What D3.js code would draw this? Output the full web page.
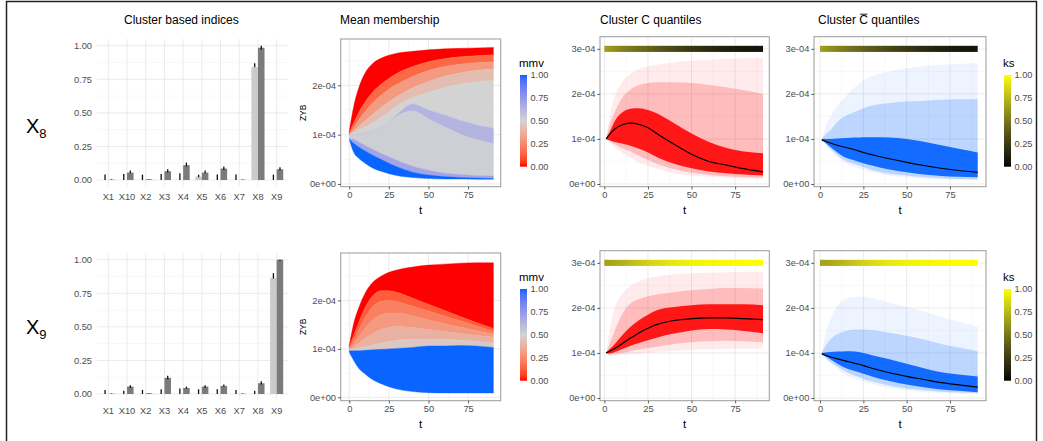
<!DOCTYPE html>
<html>
<head>
<meta charset="utf-8">
<script src="https://cdn.jsdelivr.net/npm/d3@7/dist/d3.min.js"></script>
<style>
  body { margin: 0; background: #fff; }
  text { font-family: "Liberation Sans", Arial, sans-serif; }
</style>
</head>
<body>
<div id="chart"></div>
<script>
// ---------- data ----------
const cats = ["X1", "X10", "X2", "X3", "X4", "X5", "X6", "X7", "X8", "X9"];
const rowNames = ["8", "9"];

// cluster based indices (light = first index, dark = second index), [lo, hi] error bars
const light8 = [0, 0, 0, 0, 0, 0.025, 0, 0, 0.84, 0];
const light8Err = [[0, 0.04], [0, 0.045], [0, 0.04], [0, 0.045], [0, 0.05], [0.02, 0.04], [0, 0.04], [0, 0.04], [0.84, 0.87], [0, 0.04]];
const dark8 = [0.002, 0.055, 0.005, 0.065, 0.11, 0.055, 0.085, 0.002, 0.985, 0.08];
const dark8Err = [[0, 0.005], [0.05, 0.07], [0.003, 0.007], [0.055, 0.08], [0.1, 0.13], [0.05, 0.07], [0.075, 0.1], [0, 0.004], [0.97, 1.0], [0.07, 0.095]];

const light9 = [0, 0, 0, 0, 0, 0, 0, 0, 0, 0.865];
const light9Err = [[0, 0.03], [0, 0.025], [0, 0.03], [0, 0.035], [0, 0.04], [0, 0.035], [0, 0.035], [0, 0.03], [0, 0.025], [0.86, 0.9]];
const dark9 = [0.002, 0.055, 0.005, 0.12, 0.045, 0.055, 0.06, 0.002, 0.08, 1.0];
const dark9Err = [[0, 0.004], [0.045, 0.065], [0.003, 0.007], [0.11, 0.135], [0.04, 0.055], [0.045, 0.065], [0.055, 0.07], [0, 0.004], [0.07, 0.095], [0.99, 1.0]];

// mean membership: band boundaries (ZYB, units of 1e-4) from top to bottom, with the mmv of each band
const heatT = [0, 3, 6, 10, 15, 20, 25, 30, 40, 50, 60, 70, 80, 91];
const heat8 = [
  [1.07, 1.60, 1.95, 2.25, 2.45, 2.55, 2.61, 2.65, 2.69, 2.72, 2.74, 2.75, 2.76, 2.77],
  [1.03, 1.25, 1.45, 1.66, 1.87, 2.02, 2.14, 2.24, 2.38, 2.48, 2.54, 2.58, 2.60, 2.62],
  [1.01, 1.15, 1.30, 1.47, 1.65, 1.80, 1.92, 2.02, 2.18, 2.30, 2.38, 2.43, 2.46, 2.48],
  [1.00, 1.08, 1.17, 1.28, 1.42, 1.55, 1.67, 1.77, 1.95, 2.08, 2.18, 2.25, 2.30, 2.33],
  [1.00, 1.04, 1.09, 1.15, 1.24, 1.35, 1.45, 1.58, 1.75, 1.85, 1.95, 2.02, 2.07, 2.10],
  [0.99, 1.00, 1.01, 1.03, 1.08, 1.15, 1.25, 1.40, 1.62, 1.50, 1.40, 1.29, 1.20, 1.13],
  [0.98, 0.99, 1.00, 1.02, 1.07, 1.14, 1.24, 1.37, 1.48, 1.32, 1.16, 1.01, 0.90, 0.82],
  [0.93, 0.90, 0.85, 0.78, 0.70, 0.62, 0.55, 0.48, 0.36, 0.28, 0.22, 0.19, 0.17, 0.16],
  [0.90, 0.82, 0.75, 0.67, 0.58, 0.50, 0.42, 0.35, 0.24, 0.18, 0.15, 0.13, 0.12, 0.11],
  [0.90, 0.63, 0.52, 0.42, 0.32, 0.26, 0.21, 0.17, 0.13, 0.11, 0.10, 0.10, 0.095, 0.095]
];
const heat8Mmv = [0, 0.15, 0.3, 0.42, 0.5, 0.63, 0.52, 0.7, 1];

const heat9 = [
  [1.07, 1.55, 1.85, 2.15, 2.38, 2.50, 2.58, 2.63, 2.69, 2.73, 2.75, 2.77, 2.78, 2.78],
  [1.04, 1.30, 1.55, 1.85, 2.10, 2.20, 2.20, 2.17, 2.05, 1.92, 1.80, 1.67, 1.55, 1.42],
  [1.02, 1.20, 1.40, 1.65, 1.88, 1.98, 2.00, 1.98, 1.88, 1.78, 1.68, 1.58, 1.48, 1.36],
  [1.00, 1.10, 1.25, 1.42, 1.60, 1.70, 1.74, 1.74, 1.68, 1.60, 1.52, 1.45, 1.38, 1.30],
  [0.99, 1.04, 1.12, 1.22, 1.32, 1.40, 1.44, 1.46, 1.44, 1.40, 1.36, 1.32, 1.28, 1.24],
  [0.98, 1.00, 1.02, 1.04, 1.08, 1.12, 1.15, 1.18, 1.20, 1.20, 1.20, 1.18, 1.16, 1.12],
  [0.96, 0.96, 0.96, 0.97, 0.98, 0.99, 1.00, 1.01, 1.03, 1.06, 1.06, 1.07, 1.06, 1.03],
  [0.93, 0.75, 0.60, 0.48, 0.36, 0.28, 0.22, 0.17, 0.12, 0.095, 0.09, 0.09, 0.09, 0.09]
];
const heat9Mmv = [0, 0.12, 0.22, 0.3, 0.38, 0.46, 1];

// quantile bands (units of 1e-4): outer, middle, inner quantile ranges and median
const quantT = [1, 3, 6, 10, 15, 20, 25, 30, 40, 50, 60, 70, 80, 91];
const c8 = {
  outerTop: [1.0, 1.5, 1.95, 2.25, 2.45, 2.55, 2.61, 2.65, 2.7, 2.74, 2.76, 2.78, 2.79, 2.8],
  midTop:   [1.0, 1.3, 1.6, 1.9, 2.1, 2.2, 2.24, 2.26, 2.26, 2.24, 2.2, 2.15, 2.08, 2.0],
  innerTop: [1.0, 1.15, 1.4, 1.58, 1.67, 1.68, 1.64, 1.57, 1.35, 1.12, 0.93, 0.8, 0.72, 0.68],
  median:   [1.0, 1.1, 1.22, 1.31, 1.35, 1.32, 1.25, 1.12, 0.88, 0.66, 0.5, 0.42, 0.34, 0.27],
  innerBot: [1.0, 0.97, 0.93, 0.9, 0.85, 0.78, 0.7, 0.6, 0.45, 0.35, 0.28, 0.24, 0.21, 0.19],
  midBot:   [1.0, 0.95, 0.88, 0.8, 0.72, 0.62, 0.53, 0.45, 0.33, 0.25, 0.2, 0.17, 0.15, 0.14],
  outerBot: [1.0, 0.92, 0.82, 0.7, 0.58, 0.48, 0.4, 0.34, 0.24, 0.19, 0.16, 0.14, 0.13, 0.12]
};
const cbar8 = {
  outerTop: [1.0, 1.25, 1.5, 1.75, 1.95, 2.15, 2.3, 2.4, 2.5, 2.57, 2.62, 2.65, 2.67, 2.68],
  midTop:   [1.0, 1.1, 1.2, 1.38, 1.52, 1.6, 1.68, 1.74, 1.8, 1.83, 1.85, 1.87, 1.88, 1.88],
  innerTop: [1.0, 1.0, 1.0, 1.01, 1.02, 1.03, 1.04, 1.04, 1.03, 1.0, 0.94, 0.86, 0.78, 0.7],
  median:   [0.98, 0.95, 0.91, 0.86, 0.81, 0.76, 0.7, 0.65, 0.56, 0.48, 0.41, 0.35, 0.3, 0.26],
  innerBot: [0.98, 0.92, 0.82, 0.7, 0.58, 0.52, 0.46, 0.41, 0.32, 0.26, 0.21, 0.18, 0.16, 0.15],
  midBot:   [0.98, 0.9, 0.78, 0.64, 0.51, 0.44, 0.38, 0.31, 0.23, 0.19, 0.15, 0.13, 0.11, 0.1],
  outerBot: [0.98, 0.88, 0.74, 0.6, 0.45, 0.38, 0.32, 0.26, 0.19, 0.15, 0.12, 0.1, 0.095, 0.09]
};
const c9 = {
  outerTop: [1.0, 1.5, 2.0, 2.3, 2.5, 2.6, 2.66, 2.7, 2.74, 2.77, 2.78, 2.79, 2.8, 2.8],
  midTop:   [1.0, 1.2, 1.5, 1.85, 2.1, 2.2, 2.26, 2.3, 2.35, 2.39, 2.42, 2.44, 2.44, 2.43],
  innerTop: [1.0, 1.08, 1.2, 1.38, 1.58, 1.73, 1.85, 1.95, 2.02, 2.06, 2.08, 2.08, 2.08, 2.06],
  median:   [1.0, 1.04, 1.1, 1.2, 1.33, 1.45, 1.55, 1.63, 1.72, 1.76, 1.78, 1.78, 1.76, 1.74],
  innerBot: [1.0, 0.99, 1.02, 1.08, 1.16, 1.22, 1.28, 1.34, 1.43, 1.5, 1.53, 1.52, 1.49, 1.44],
  midBot:   [1.0, 0.96, 0.98, 1.0, 1.04, 1.08, 1.11, 1.14, 1.2, 1.24, 1.26, 1.27, 1.26, 1.24],
  outerBot: [1.0, 0.94, 0.94, 0.95, 0.97, 0.99, 1.0, 1.02, 1.05, 1.07, 1.08, 1.09, 1.1, 1.1]
};
const cbar9 = {
  outerTop: [1.0, 1.4, 1.75, 2.05, 2.2, 2.24, 2.25, 2.22, 2.12, 2.02, 1.92, 1.8, 1.7, 1.58],
  midTop:   [1.0, 1.15, 1.3, 1.42, 1.49, 1.52, 1.52, 1.51, 1.45, 1.38, 1.3, 1.2, 1.12, 1.04],
  innerTop: [1.0, 1.01, 1.02, 1.03, 1.04, 1.03, 1.0, 0.95, 0.86, 0.76, 0.66, 0.57, 0.52, 0.48],
  median:   [0.98, 0.95, 0.91, 0.87, 0.82, 0.77, 0.72, 0.66, 0.56, 0.48, 0.41, 0.34, 0.29, 0.24],
  innerBot: [0.98, 0.93, 0.86, 0.76, 0.66, 0.6, 0.54, 0.48, 0.38, 0.3, 0.24, 0.19, 0.16, 0.13],
  midBot:   [0.98, 0.9, 0.8, 0.7, 0.58, 0.5, 0.43, 0.37, 0.28, 0.21, 0.17, 0.14, 0.12, 0.11],
  outerBot: [0.98, 0.88, 0.78, 0.64, 0.51, 0.43, 0.37, 0.31, 0.22, 0.17, 0.13, 0.11, 0.1, 0.09]
};

// ks statistic along t (bar drawn at 3e-04)
const ksT = [0, 10, 20, 30, 40, 50, 60, 70, 80, 91];
const ks8 = [0.66, 0.55, 0.46, 0.38, 0.3, 0.23, 0.17, 0.12, 0.08, 0.06];
const ks9 = [0.66, 0.72, 0.8, 0.87, 0.92, 0.95, 0.97, 0.98, 0.99, 0.99];

// ticks
const barTicks = [0, 0.25, 0.5, 0.75, 1];
const barTickLabels = ["0.00", "0.25", "0.50", "0.75", "1.00"];
const tTicks = [0, 25, 50, 75];
const zybTicks = [0, 1, 2];
const zybTickLabels = ["0e+00", "1e-04", "2e-04"];
const qTicks = [0, 1, 2, 3];
const qTickLabels = ["0e+00", "1e-04", "2e-04", "3e-04"];
const legendTicks = [0, 0.25, 0.5, 0.75, 1];
const legendTickLabels = ["0.00", "0.25", "0.50", "0.75", "1.00"];

// ---------- drawing ----------
const svg = d3.select("#chart").append("svg")
    .attr("width", 1043)
    .attr("height", 441);
const defs = svg.append("defs");

const mmvColor = d3.scaleLinear().domain([0, 0.5, 1])
    .range(["#ff0000", "#d3d3d3", "#0a64ff"]).interpolate(d3.interpolateLab);
const ksColor = d3.scaleLinear().domain([0, 1])
    .range(["#000000", "#ffff00"]).interpolate(d3.interpolateLab);

const textCol = "#4d4d4d";
const tickSize = "9.3px";
const gridMaj = "#ebebeb", gridMin = "#f3f3f3";
const rowShift = 214;

function gridLines(g, x, y, xs, ys, col, w) {
    let [x0, x1] = x.range(), [y0, y1] = y.range();
    g.selectAll(null).data(xs).enter().append("line")
        .attr("x1", d => x(d)).attr("x2", d => x(d))
        .attr("y1", y0).attr("y2", y1)
        .attr("stroke", col).attr("stroke-width", w);
    g.selectAll(null).data(ys).enter().append("line")
        .attr("x1", x0).attr("x2", x1)
        .attr("y1", d => y(d)).attr("y2", d => y(d))
        .attr("stroke", col).attr("stroke-width", w);
}

function styleAxis(a) {
    a.select(".domain").remove();
    a.selectAll(".tick line").attr("stroke", "#333").attr("stroke-width", 0.8);
    a.selectAll(".tick text").attr("fill", textCol).style("font-size", tickSize)
        .style("font-family", "'Liberation Sans', Arial, sans-serif");
}

function drawBars(dy, light, lightErr, dark, darkErr) {
    let g = svg.append("g");
    let x = d3.scalePoint().domain(cats).range([97.1, 287.9]).padding(0.6);
    let y = d3.scaleLinear().domain([-0.05, 1.05]).range([186.7 + dy, 39 + dy]);
    let bw = x.step() * 0.35;
    let xb = d3.scaleLinear().domain([0, 1]).range(x.range());

    gridLines(g, xb, y, [], [0.125, 0.375, 0.625, 0.875], gridMin, 0.6);
    g.selectAll(null).data(cats).enter().append("line")
        .attr("x1", d => x(d)).attr("x2", d => x(d))
        .attr("y1", y.range()[0]).attr("y2", y.range()[1])
        .attr("stroke", gridMaj).attr("stroke-width", 1);
    gridLines(g, xb, y, [], barTicks, gridMaj, 1);

    g.selectAll(null).data(cats).enter().append("rect")
        .attr("x", d => x(d) - bw).attr("width", bw)
        .attr("y", (d, i) => y(light[i]))
        .attr("height", (d, i) => y(0) - y(light[i]))
        .attr("fill", "#cbcbcb");
    g.selectAll(null).data(cats).enter().append("rect")
        .attr("x", d => x(d)).attr("width", bw)
        .attr("y", (d, i) => y(dark[i]))
        .attr("height", (d, i) => y(0) - y(dark[i]))
        .attr("fill", "#7b7b7b");

    // error bars
    g.selectAll(null).data(cats).enter().append("line")
        .attr("x1", d => x(d) - bw / 2).attr("x2", d => x(d) - bw / 2)
        .attr("y1", (d, i) => y(lightErr[i][0])).attr("y2", (d, i) => y(lightErr[i][1]))
        .attr("stroke", "#111").attr("stroke-width", 1.3);
    g.selectAll(null).data(cats).enter().append("line")
        .attr("x1", d => x(d) + bw / 2).attr("x2", d => x(d) + bw / 2)
        .attr("y1", (d, i) => y(darkErr[i][0])).attr("y2", (d, i) => y(darkErr[i][1]))
        .attr("stroke", "#111").attr("stroke-width", 1.3);

    // labels, no ticks (minimal theme)
    g.selectAll(null).data(barTicks).enter().append("text")
        .attr("x", 92).attr("y", d => y(d)).attr("dy", "0.35em")
        .attr("text-anchor", "end").attr("fill", textCol)
        .style("font-size", tickSize).text((d, i) => barTickLabels[i]);
    g.selectAll(null).data(cats).enter().append("text")
        .attr("x", d => x(d)).attr("y", 199.5 + dy)
        .attr("text-anchor", "middle").attr("fill", textCol)
        .style("font-size", tickSize).text(d => d);
}

function frame(g, x, y, xTicks, yTicks, yLabels) {
    let [x0, x1] = x.range(), [y0, y1] = y.range();
    g.append("rect").attr("x", x0).attr("y", y1)
        .attr("width", x1 - x0).attr("height", y0 - y1)
        .attr("fill", "none").attr("stroke", "#9a9a9a").attr("stroke-width", 1);
    let ax = g.append("g").attr("transform", `translate(0,${y0})`)
        .call(d3.axisBottom(x).tickValues(xTicks).tickSize(2.7).tickPadding(2));
    styleAxis(ax);
    let ay = g.append("g").attr("transform", `translate(${x0},0)`)
        .call(d3.axisLeft(y).tickValues(yTicks).tickSize(2.7).tickPadding(2)
            .tickFormat((d, i) => yLabels[i]));
    styleAxis(ay);
    g.append("text").attr("x", (x0 + x1) / 2).attr("y", y0 + 27.5)
        .attr("text-anchor", "middle").style("font-size", "11.5px").text("t");
}

function drawHeat(dy, bounds, mmv, yDom) {
    let g = svg.append("g");
    let x = d3.scaleLinear().domain([-5.4, 95.6]).range([340.7, 500.7]);
    let y = d3.scaleLinear().domain(yDom).range([186.7 + dy, 39 + dy]);
    gridLines(g, x, y, [12.5, 37.5, 62.5, 87.5], [0.5, 1.5, 2.5], gridMin, 0.6);
    gridLines(g, x, y, tTicks, zybTicks, gridMaj, 1);

    for (let i = 0; i < mmv.length; i++) {
        let area = d3.area()
            .x((d, j) => x(heatT[j]))
            .y0((d, j) => y(bounds[i + 1][j]))
            .y1((d, j) => y(bounds[i][j]))
            .curve(d3.curveMonotoneX);
        g.append("path").datum(heatT)
            .attr("d", area)
            .attr("fill", mmvColor(mmv[i]))
            .attr("stroke", mmvColor(mmv[i])).attr("stroke-width", 0.4);
    }
    frame(g, x, y, tTicks, zybTicks, zybTickLabels);
    g.append("text")
        .attr("transform", `translate(306,${(y.range()[0] + y.range()[1]) / 2}) rotate(-90)`)
        .attr("text-anchor", "middle").style("font-size", "8.5px").text("ZYB");
}

function drawQuant(dy, xr, xDom, q, ks, rgb, alphas, gid) {
    let g = svg.append("g");
    let x = d3.scaleLinear().domain(xDom).range(xr);
    let y = d3.scaleLinear().domain([-0.06, 3.27]).range([186.7 + dy, 36.7 + dy]);
    gridLines(g, x, y, [12.5, 37.5, 62.5, 87.5], [0.5, 1.5, 2.5], gridMin, 0.6);
    gridLines(g, x, y, tTicks, qTicks, gridMaj, 1);

    let band = function(lo, hi, a) {
        let area = d3.area()
            .x((d, j) => x(quantT[j]))
            .y0((d, j) => y(lo[j]))
            .y1((d, j) => y(hi[j]))
            .curve(d3.curveMonotoneX);
        g.append("path").datum(quantT).attr("d", area)
            .attr("fill", rgb).attr("fill-opacity", a);
    };
    band(q.outerBot, q.outerTop, alphas[0]);
    band(q.midBot, q.midTop, alphas[1]);
    band(q.innerBot, q.innerTop, alphas[2]);

    g.append("path").datum(quantT)
        .attr("fill", "none").attr("stroke", "#000").attr("stroke-width", 1.2)
        .attr("d", d3.line()
            .x((d, j) => x(quantT[j]))
            .y((d, j) => y(q.median[j]))
            .curve(d3.curveMonotoneX));

    // ks bar
    let xa = x(ksT[0]), xb = x(ksT[ksT.length - 1]);
    let grad = defs.append("linearGradient").attr("id", gid)
        .attr("x1", "0%").attr("x2", "100%").attr("y1", "0%").attr("y2", "0%");
    grad.selectAll("stop").data(ksT).enter().append("stop")
        .attr("offset", d => ((x(d) - xa) / (xb - xa) * 100) + "%")
        .attr("stop-color", (d, i) => ksColor(ks[i]));
    g.append("rect").attr("x", xa).attr("width", xb - xa)
        .attr("y", y(3.068)).attr("height", y(2.932) - y(3.068))
        .attr("fill", `url(#${gid})`);

    frame(g, x, y, tTicks, qTicks, qTickLabels);
}

function colorbar(x, top, title, scale, gid) {
    let g = svg.append("g");
    let h = 91.7, w = 7;
    let grad = defs.append("linearGradient").attr("id", gid)
        .attr("x1", "0%").attr("x2", "0%").attr("y1", "100%").attr("y2", "0%");
    grad.selectAll("stop").data(d3.range(0, 1.0001, 0.05)).enter().append("stop")
        .attr("offset", d => (d * 100) + "%")
        .attr("stop-color", d => scale(d));
    g.append("rect").attr("x", x).attr("y", top).attr("width", w).attr("height", h)
        .attr("fill", `url(#${gid})`);
    let ly = d3.scaleLinear().domain([0, 1]).range([top + h, top]);
    g.selectAll(null).data(legendTicks).enter().append("text")
        .attr("x", x + w + 3.5).attr("y", d => ly(d)).attr("dy", "0.35em")
        .attr("fill", textCol).style("font-size", "9.2px")
        .text((d, i) => legendTickLabels[i]);
    g.append("text").attr("x", x - 1).attr("y", top - 8)
        .style("font-size", "11.5px").text(title);
}

// outer frame of the figure
svg.append("path")
    .attr("d", "M6.5,445V1.5H1036.5V445")
    .attr("fill", "none").attr("stroke", "#222").attr("stroke-width", 1.5);

// column titles
svg.append("text").attr("x", 124).attr("y", 24).style("font-size", "12px").text("Cluster based indices");
svg.append("text").attr("x", 340).attr("y", 24).style("font-size", "12px").text("Mean membership");
svg.append("text").attr("x", 600).attr("y", 24).style("font-size", "12px").text("Cluster C quantiles");
let t4 = svg.append("text").attr("x", 818).attr("y", 24).style("font-size", "12px").text("Cluster C quantiles");
let cb = t4.node().getExtentOfChar(8);
svg.append("line")
    .attr("x1", cb.x + 0.8).attr("x2", cb.x + cb.width - 0.6)
    .attr("y1", cb.y + 1.2).attr("y2", cb.y + 1.2)
    .attr("stroke", "#000").attr("stroke-width", 0.9);

// row labels
const rowLabelY = [133, 334];
rowNames.forEach(function(r, i) {
    let t = svg.append("text").attr("x", 26).attr("y", rowLabelY[i]).style("font-size", "20px");
    t.append("tspan").text("X");
    t.append("tspan").attr("dy", 5).style("font-size", "13px").text(r);
});

const redAlpha = [0.08, 0.2, 0.88];
const blueAlpha = [0.07, 0.2, 0.9];

// row X8
drawBars(0, light8, light8Err, dark8, dark8Err);
drawHeat(0, heat8, heat8Mmv, [-0.055, 2.94]);
colorbar(520, 75, "mmv", mmvColor, "mmv8");
drawQuant(0, [600, 769.3], [-2.5, 94.6], c8, ks8, "#ff0000", redAlpha, "ks8a");
drawQuant(0, [814, 986], [-3.5, 95.8], cbar8, ks8, "#005fff", blueAlpha, "ks8b");
colorbar(1004, 75, "ks", ksColor, "ksl8");

// row X9
drawBars(rowShift, light9, light9Err, dark9, dark9Err);
drawHeat(rowShift, heat9, heat9Mmv, [-0.07, 2.98]);
colorbar(520, 75 + rowShift, "mmv", mmvColor, "mmv9");
drawQuant(rowShift, [600, 769.3], [-2.5, 94.6], c9, ks9, "#ff0000", redAlpha, "ks9a");
drawQuant(rowShift, [814, 986], [-3.5, 95.8], cbar9, ks9, "#005fff", blueAlpha, "ks9b");
colorbar(1004, 75 + rowShift, "ks", ksColor, "ksl9");
</script>
</body>
</html>
